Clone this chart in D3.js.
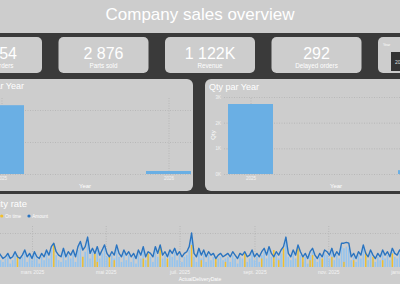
<!DOCTYPE html>
<html>
<head>
<meta charset="utf-8">
<script src="https://cdn.jsdelivr.net/npm/d3@7"></script>
<style>
body { margin: 0; background: #3a3a3a; }
svg { display: block; font-family: "Liberation Sans", Arial, sans-serif; }
</style>
</head>
<body>
<svg id="chart" width="400" height="284"></svg>
<script>
// --- data ---
const kpiValues = ["1 054", "2 876", "1 122K", "292"];
const kpiLabels = ["Total orders", "Parts sold", "Revenue", "Delayed orders"];

const years = ["2025", "2026"];
const revenueByYear = [1075, 47];      // K
const qtyByYear = [2727, 149];
const revenueTicks = [0, 500, 1000];
const qtyTicks = [0, 1000, 2000, 3000];

const monthTicks = ["2025-03-01", "2025-05-01", "2025-07-01", "2025-09-01", "2025-11-01", "2026-01-01"];
const monthLabels = ["mars 2025", "mai 2025", "juil. 2025", "sept. 2025", "nov. 2025", "janv. 2026"];

const firstDay = "2025-02-01"   // one point every 2 days from here
const amountLine = [
  9, 7, 5, 6, 8, 5, 6, 9, 6, 5, 7, 10, 6, 8, 5, 9, 6,
  5, 8, 6, 10, 7, 12, 14, 9, 7, 6, 11, 6, 9, 7, 10, 6, 12, 15,
  10, 12, 17.6, 8, 11, 8, 12, 7, 10, 13, 8, 6, 9, 7, 13, 8, 6, 10,
  7, 9, 6, 8, 5, 10, 7, 12, 6, 9, 8, 6, 12, 8, 13, 7, 9, 6,
  10, 8, 11, 7, 9, 6, 8, 9, 12, 20, 8, 6, 11, 7, 10, 6, 9, 7,
  8, 5, 7, 8, 6, 7, 8, 6, 9, 7, 5, 8, 7, 9, 6, 7, 10, 6,
  8, 6, 9, 11, 7, 12, 8, 6, 9, 7, 10, 12, 17.6, 8, 6, 10, 7, 13,
  9, 6, 8, 5, 9, 11, 7, 5, 8, 6, 10, 9, 7, 11, 6, 9, 7, 14,
  14, 14.5, 14, 6, 8, 5, 9, 7, 13, 8, 6, 10, 7, 5, 8, 6, 10, 7,
  9, 6, 11, 8, 7, 10, 8, 6, 9
];
const amountBars = [
  6, 4, 3, 5, 7, 2, 4, 8, 3, 5,
  6, 9, 3, 7, 4, 8, 5, 2, 6, 4,
  9, 5, 10, 12, 7, 4, 3, 9, 4, 7,
  5, 8, 3, 10, 13, 6, 9, 15, 5, 9,
  4, 10, 5, 8, 11, 6, 3, 7, 5, 11,
  6, 3, 8, 4, 7, 3, 6, 2, 8, 5,
  10, 4, 7, 6, 3, 10, 6, 11, 5, 7,
  3, 8, 6, 9, 4, 7, 3, 6, 7, 10,
  17, 6, 3, 9, 5, 8, 3, 7, 4, 6,
  3, 5, 6, 4, 5, 6, 3, 7, 5, 2,
  6, 5, 7, 3, 5, 8, 4, 6, 3, 7,
  9, 5, 10, 6, 3, 7, 5, 8, 10, 15,
  6, 4, 8, 5, 11, 7, 3, 6, 2, 7,
  9, 5, 3, 6, 4, 8, 7, 5, 9, 4,
  7, 5, 12, 11, 12, 11, 4, 6, 3, 7,
  5, 11, 6, 4, 8, 5, 3, 6, 4, 8,
  5, 7, 4, 9, 6, 5, 8, 6, 4, 7
];
const onTimeDays = [8, 23, 35, 40, 41, 46, 48, 60, 62, 67, 70, 80, 84, 90, 94, 102, 109, 114, 116, 118, 124, 126, 129, 130, 134, 138, 143, 147, 152, 155, 159, 163];
const onTimeValues = [7, 14, 6, 9, 3, 6, 4, 5, 8, 13, 5, 13, 4, 5, 3, 8, 5, 10, 4, 11, 11, 6, 4, 7, 5, 6, 3, 4, 9, 6, 4, 8];

// --- colours ---
const panel = "#cdcdcd"
const gridColor = "#b2b2b2"
const barBlue = "#6aafe4"

const svg = d3.select("#chart")

svg.append("rect").attr("width", 400).attr("height", 284).attr("fill", "#3a3a3a")

// title bar
svg.append("rect").attr("x", -10).attr("y", -10).attr("width", 420).attr("height", 43).attr("fill", panel)
svg.append("text")
    .attr("x", 200).attr("y", 20)
    .attr("text-anchor", "middle")
    .attr("font-size", 17)
    .attr("fill", "#fff")
    .text("Company sales overview")

// kpi cards
var cardX = d3.scaleLinear().domain([0, 1]).range([-48, 58.5])
var cards = svg.append("g").selectAll("g")
    .data(kpiValues)
    .enter()
    .append("g")
    .attr("transform", function(d, i) { return "translate(" + cardX(i) + ",37)" })
cards.append("rect").attr("width", 90).attr("height", 36).attr("rx", 5).attr("fill", panel)
cards.append("text")
    .attr("x", 45).attr("y", 22)
    .attr("text-anchor", "middle").attr("font-size", 16).attr("fill", "#fff")
    .text(function(d) { return d })
cards.append("text")
    .attr("x", 45).attr("y", 31)
    .attr("text-anchor", "middle").attr("font-size", 6.3).attr("fill", "#fff")
    .text(function(d, i) { return kpiLabels[i] })

// year slicer card (cut off at the right)
var slicer = svg.append("g").attr("transform", "translate(" + cardX(4) + ",37)")
slicer.append("rect").attr("width", 90).attr("height", 36).attr("rx", 5).attr("fill", panel)
slicer.append("text").attr("x", 5).attr("y", 9).attr("font-size", 3.6).attr("fill", "#fff").text("Year")
slicer.append("rect").attr("x", 13).attr("y", 15).attr("width", 40).attr("height", 19).attr("fill", "#333")
slicer.append("text").attr("x", 17).attr("y", 26.5).attr("font-size", 5).attr("fill", "#ddd").text("2025")

function styleGrid(g) {
    g.select(".domain").remove()
    g.selectAll(".tick line")
        .attr("stroke", gridColor)
        .attr("stroke-width", 0.8)
        .attr("stroke-dasharray", "1,1.5")
    g.selectAll(".tick text")
        .attr("fill", "#f4f4f4")
        .attr("font-size", 4.5)
        .attr("font-family", "Liberation Sans, Arial, sans-serif")
}

// --- Revenue par Year (left, cut off) ---
svg.append("rect").attr("x", -50).attr("y", 79).attr("width", 243).attr("height", 112).attr("rx", 6).attr("fill", panel)
svg.append("text").attr("x", 24).attr("y", 89).attr("text-anchor", "end")
    .attr("font-size", 9).attr("fill", "#fff").text("Revenue par Year")

var xRev = d3.scalePoint().domain(years).range([1.5, 168.5])
var yRev = d3.scaleLinear().domain([0, 1000]).range([174, 110])

svg.append("g")
    .attr("transform", "translate(-30,0)")
    .call(d3.axisLeft(yRev).tickValues(revenueTicks).tickSize(-221).tickFormat(""))
    .call(styleGrid)
svg.append("g")
    .attr("transform", "translate(0,174)")
    .call(d3.axisBottom(xRev).tickSize(-77).tickPadding(3))
    .call(styleGrid)

svg.append("g").selectAll("rect")
    .data(revenueByYear)
    .enter()
    .append("rect")
    .attr("x", function(d, i) { return xRev(years[i]) - 22.5 })
    .attr("y", function(d) { return yRev(d) })
    .attr("width", 45)
    .attr("height", function(d) { return 174 - yRev(d) })
    .attr("fill", barBlue)
svg.append("text").attr("x", 85).attr("y", 187.5).attr("text-anchor", "middle")
    .attr("font-size", 6).attr("fill", "#fff").text("Year")

// --- Qty par Year (right) ---
svg.append("rect").attr("x", 205).attr("y", 79).attr("width", 250).attr("height", 112).attr("rx", 6).attr("fill", panel)
svg.append("text").attr("x", 209).attr("y", 90)
    .attr("font-size", 9).attr("fill", "#fff").text("Qty par Year")

var xQty = d3.scalePoint().domain(years).range([250.5, 420.5])
var yQty = d3.scaleLinear().domain([0, 3000]).range([174, 97])

svg.append("g")
    .attr("transform", "translate(224,0)")
    .call(d3.axisLeft(yQty).tickValues(qtyTicks).tickSize(-210).tickPadding(3)
        .tickFormat(function(d) { return d / 1000 + "K" }))
    .call(styleGrid)
svg.append("g")
    .attr("transform", "translate(0,174)")
    .call(d3.axisBottom(xQty).tickSize(-77).tickPadding(3))
    .call(styleGrid)

svg.append("g").selectAll("rect")
    .data(qtyByYear)
    .enter()
    .append("rect")
    .attr("x", function(d, i) { return xQty(years[i]) - 22.5 })
    .attr("y", function(d) { return yQty(d) })
    .attr("width", 45)
    .attr("height", function(d) { return 174 - yQty(d) })
    .attr("fill", barBlue)
svg.append("text").attr("x", 336).attr("y", 187.5).attr("text-anchor", "middle")
    .attr("font-size", 6).attr("fill", "#fff").text("Year")
svg.append("text").attr("transform", "translate(215,135) rotate(-90)").attr("text-anchor", "middle")
    .attr("font-size", 6).attr("fill", "#fff").text("Qty")

// --- Punctuality rate (bottom) ---
svg.append("rect").attr("x", -10).attr("y", 194).attr("width", 420).attr("height", 100).attr("rx", 6).attr("fill", panel)
svg.append("text").attr("x", 27).attr("y", 207).attr("text-anchor", "end")
    .attr("font-size", 9.5).attr("fill", "#fff").text("Punctuality rate")

var legend = [["On time", "#f2bf2a", 1.7], ["Amount", "#2a74c0", 29]]
legend.forEach(function(l) {
    svg.append("circle").attr("cx", l[2]).attr("cy", 216).attr("r", 1.6).attr("fill", l[1])
    svg.append("text").attr("x", l[2] + 3.3).attr("y", 217.6)
        .attr("font-size", 4.6).attr("fill", "#fff").text(l[0])
})

var parse = d3.timeParse("%Y-%m-%d")
var start = parse(firstDay)
var dates = amountLine.map(function(v, i) { return d3.timeDay.offset(start, 2 * i) })

var xTime = d3.scaleTime().domain([parse("2025-03-01"), parse("2026-01-01")]).range([32, 402])
var yAmt = d3.scaleLinear().domain([0, 20]).range([267, 233])

svg.append("g")
    .attr("transform", "translate(-10,0)")
    .call(d3.axisLeft(yAmt).tickValues([20]).tickSize(-420).tickFormat(""))
    .call(styleGrid)
svg.append("g")
    .attr("transform", "translate(0,267)")
    .call(d3.axisBottom(xTime).tickValues(monthTicks.map(parse)).tickSize(-42).tickPadding(3)
        .tickFormat(function(d, i) { return monthLabels[i] }))
    .call(styleGrid)
    .selectAll(".tick text").attr("font-size", 5)

svg.append("g").selectAll("rect")
    .data(amountBars)
    .enter()
    .append("rect")
    .attr("x", function(d, i) { return xTime(dates[i]) - 0.8 })
    .attr("y", function(d) { return yAmt(d) })
    .attr("width", 1.6)
    .attr("height", function(d) { return 267 - yAmt(d) })
    .attr("fill", "#95c4ee")

svg.append("g").selectAll("rect")
    .data(onTimeValues)
    .enter()
    .append("rect")
    .attr("x", function(d, i) { return xTime(dates[onTimeDays[i]]) - 0.7 })
    .attr("y", function(d) { return yAmt(d) })
    .attr("width", 1.4)
    .attr("height", function(d) { return 267 - yAmt(d) })
    .attr("fill", "#f2bf2a")

var line = d3.line()
    .x(function(d, i) { return xTime(dates[i]) })
    .y(function(d) { return yAmt(d) })
svg.append("path")
    .datum(amountLine)
    .attr("d", line)
    .attr("fill", "none")
    .attr("stroke", "#2a74c0")
    .attr("stroke-width", 1.4)
    .attr("stroke-linejoin", "round")

svg.append("text").attr("x", 200).attr("y", 280.5).attr("text-anchor", "middle")
    .attr("font-size", 5).attr("fill", "#fff").text("ActualDeliveryDate")
</script>
</body>
</html>
